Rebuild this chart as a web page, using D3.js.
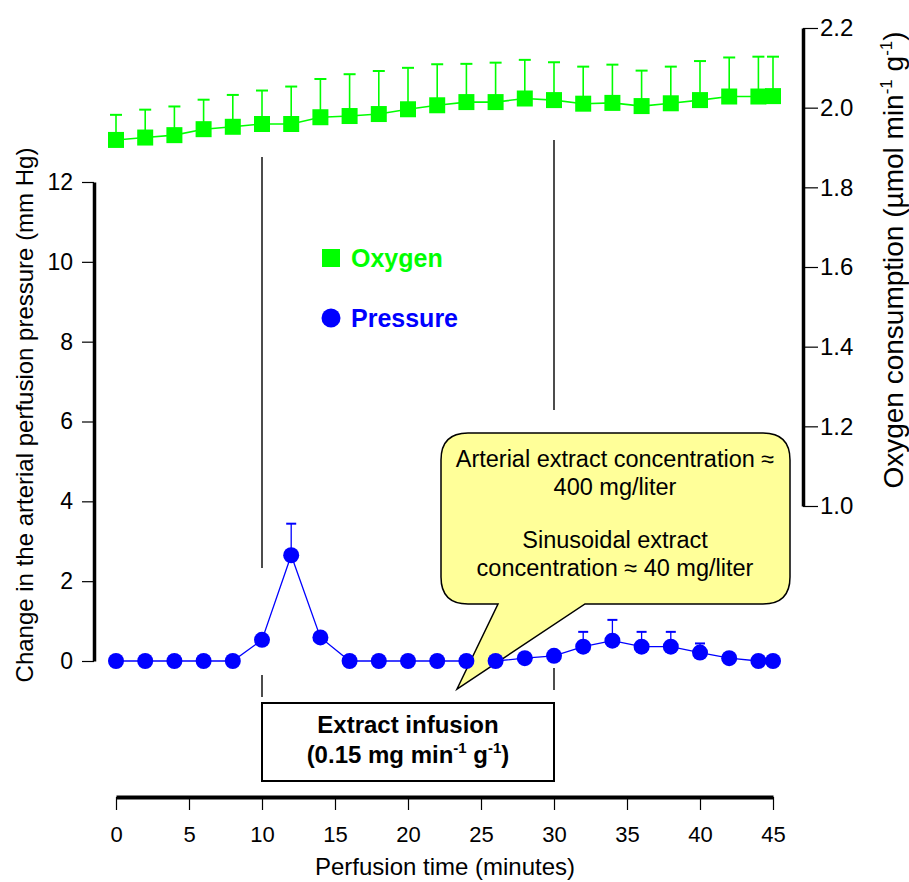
<!DOCTYPE html>
<html>
<head>
<meta charset="utf-8">
<script src="https://cdn.jsdelivr.net/npm/d3@7"></script>
<style>
  body { margin: 0; background: #fff; }
  svg { font-family: "Liberation Sans", Arial, sans-serif; }
</style>
</head>
<body>
<svg id="chart" width="909" height="882"></svg>
<script>
// perfusion time (minutes)
const times = [0, 2, 4, 6, 8, 10, 12, 14, 16, 18, 20, 22, 24, 26, 28, 30, 32, 34, 36, 38, 40, 42, 44, 45];
// oxygen consumption (umol min-1 g-1) and its upper error
const oxygen = [1.919, 1.925, 1.931, 1.946, 1.952, 1.959, 1.959, 1.976, 1.979, 1.984, 1.996, 2.006,
                2.014, 2.014, 2.023, 2.019, 2.010, 2.012, 2.004, 2.011, 2.019, 2.028, 2.028, 2.029];
const oxygenErr = [0.063, 0.070, 0.072, 0.074, 0.080, 0.084, 0.094, 0.096, 0.105, 0.108, 0.104, 0.103,
                   0.096, 0.099, 0.097, 0.095, 0.093, 0.096, 0.089, 0.092, 0.098, 0.098, 0.100, 0.099];
// change in arterial perfusion pressure (mm Hg) and its upper error
const pressure = [0, 0, 0, 0, 0, 0.53, 2.65, 0.59, 0, 0, 0, 0,
                  0, 0, 0.07, 0.13, 0.36, 0.51, 0.36, 0.36, 0.21, 0.07, 0, 0];
const pressureErr = [0, 0, 0, 0, 0, 0, 0.79, 0, 0, 0, 0, 0,
                     0, 0, 0, 0, 0.37, 0.52, 0.37, 0.37, 0.23, 0, 0, 0];
const xTicks = [0, 5, 10, 15, 20, 25, 30, 35, 40, 45];
const leftTicks = [0, 2, 4, 6, 8, 10, 12];
const rightTicks = [1.0, 1.2, 1.4, 1.6, 1.8, 2.0, 2.2];
const infusion = [10, 30];

const GREEN = '#00ff00';
const BLUE = '#0000ff';
const FONT = '"Liberation Sans", Arial, sans-serif';

const svg = d3.select('#chart');
const x = d3.scaleLinear().domain([0, 45]).range([116, 773]);
const yL = d3.scaleLinear().domain([0, 12]).range([661, 182]);
const yR = d3.scaleLinear().domain([1.0, 2.2]).range([506, 28]);

const oxy = times.map((t, i) => ({t: t, v: oxygen[i], e: oxygenErr[i]}));
const pres = times.map((t, i) => ({t: t, v: pressure[i], e: pressureErr[i]}));

// ---- axes ----
const xAxis = svg.append('g')
    .attr('transform', 'translate(0,797)')
    .call(d3.axisBottom(x).tickValues(xTicks).tickSize(13).tickSizeOuter(0).tickPadding(16));
xAxis.select('.domain').attr('stroke-width', 4);
xAxis.selectAll('.tick line').attr('stroke-width', 1.2);
xAxis.selectAll('text').attr('font-size', 22).attr('font-family', FONT);

const leftAxis = svg.append('g')
    .attr('transform', 'translate(94,0)')
    .call(d3.axisLeft(yL).tickValues(leftTicks).tickSize(12).tickSizeOuter(0).tickPadding(9));
leftAxis.select('.domain').attr('stroke-width', 3.5);
leftAxis.selectAll('.tick line').attr('stroke-width', 1.2);
leftAxis.selectAll('text').attr('font-size', 23).attr('font-family', FONT);

const rightAxis = svg.append('g')
    .attr('transform', 'translate(803,0)')
    .call(d3.axisRight(yR).tickValues(rightTicks).tickFormat(d3.format('.1f'))
      .tickSize(15).tickSizeOuter(0).tickPadding(2));
rightAxis.select('.domain').attr('stroke-width', 3.5);
rightAxis.selectAll('.tick line').attr('stroke-width', 1.2);
rightAxis.selectAll('text').attr('font-size', 24).attr('font-family', FONT);

// axis titles
svg.append('text')
    .attr('transform', 'translate(33,415) rotate(-90)')
    .attr('text-anchor', 'middle')
    .attr('font-size', 24)
    .text('Change in the arterial perfusion pressure (mm Hg)');

const rTitle = svg.append('text')
    .attr('transform', 'translate(903,260) rotate(-90)')
    .attr('text-anchor', 'middle')
    .attr('font-size', 28);
rTitle.append('tspan').text('Oxygen consumption (\u00b5mol min');
rTitle.append('tspan').attr('font-size', 17).attr('dy', -11).text('-1');
rTitle.append('tspan').attr('dy', 11).text(' g');
rTitle.append('tspan').attr('font-size', 17).attr('dy', -11).text('-1');
rTitle.append('tspan').attr('dy', 11).text(')');

svg.append('text')
    .attr('x', 445).attr('y', 875)
    .attr('text-anchor', 'middle')
    .attr('font-size', 24)
    .text('Perfusion time (minutes)');

// ---- infusion markers ----
const markerSegs = [
  {t: infusion[0], y1: 157, y2: 568},
  {t: infusion[0], y1: 675, y2: 697},
  {t: infusion[1], y1: 140, y2: 410},
  {t: infusion[1], y1: 668, y2: 690}
];
svg.selectAll('line.marker')
  .data(markerSegs)
  .enter().append('line')
    .attr('class', 'marker')
    .attr('x1', d => x(d.t)).attr('x2', d => x(d.t))
    .attr('y1', d => d.y1).attr('y2', d => d.y2)
    .attr('stroke', '#111').attr('stroke-width', 1.5);

svg.append('rect')
    .attr('x', x(infusion[0])).attr('y', 703)
    .attr('width', x(infusion[1]) - x(infusion[0])).attr('height', 78)
    .attr('fill', '#fff').attr('stroke', '#000').attr('stroke-width', 2);
svg.append('text')
    .attr('x', (x(infusion[0]) + x(infusion[1])) / 2).attr('y', 733)
    .attr('text-anchor', 'middle').attr('font-weight', 'bold').attr('font-size', 24)
    .text('Extract infusion');
const boxT = svg.append('text')
    .attr('x', (x(infusion[0]) + x(infusion[1])) / 2).attr('y', 763)
    .attr('text-anchor', 'middle').attr('font-weight', 'bold').attr('font-size', 24);
boxT.append('tspan').text('(0.15 mg min');
boxT.append('tspan').attr('font-size', 15).attr('dy', -10).text('-1');
boxT.append('tspan').attr('dy', 10).text(' g');
boxT.append('tspan').attr('font-size', 15).attr('dy', -10).text('-1');
boxT.append('tspan').attr('dy', 10).text(')');

// ---- oxygen series ----
const oxyLine = d3.line().x(d => x(d.t)).y(d => yR(d.v));
svg.append('path').datum(oxy)
    .attr('d', oxyLine).attr('fill', 'none')
    .attr('stroke', GREEN).attr('stroke-width', 1.6);
const oxyErr = svg.append('g').attr('stroke', GREEN).attr('stroke-width', 1.6);
oxyErr.selectAll('line.v').data(oxy).enter().append('line')
    .attr('x1', d => x(d.t)).attr('x2', d => x(d.t))
    .attr('y1', d => yR(d.v)).attr('y2', d => yR(d.v + d.e));
oxyErr.selectAll('line.cap').data(oxy).enter().append('line')
    .attr('x1', d => x(d.t) - 6).attr('x2', d => x(d.t) + 6)
    .attr('y1', d => yR(d.v + d.e)).attr('y2', d => yR(d.v + d.e))
    .attr('stroke-width', 2);
svg.selectAll('rect.oxy').data(oxy).enter().append('rect')
    .attr('class', 'oxy')
    .attr('x', d => x(d.t) - 8).attr('y', d => yR(d.v) - 8)
    .attr('width', 16).attr('height', 16)
    .attr('fill', GREEN);

// ---- pressure series ----
const presLine = d3.line().x(d => x(d.t)).y(d => yL(d.v));
svg.append('path').datum(pres)
    .attr('d', presLine).attr('fill', 'none')
    .attr('stroke', BLUE).attr('stroke-width', 1.3);
const withErr = pres.filter(d => d.e > 0);
const presErr = svg.append('g').attr('stroke', BLUE).attr('stroke-width', 1.3);
presErr.selectAll('line.v').data(withErr).enter().append('line')
    .attr('x1', d => x(d.t)).attr('x2', d => x(d.t))
    .attr('y1', d => yL(d.v)).attr('y2', d => yL(d.v + d.e));
presErr.selectAll('line.cap').data(withErr).enter().append('line')
    .attr('x1', d => x(d.t) - 5).attr('x2', d => x(d.t) + 5)
    .attr('y1', d => yL(d.v + d.e)).attr('y2', d => yL(d.v + d.e))
    .attr('stroke-width', 2);

// ---- callout ----
const cL = 441, cR = 790, cT = 433, cB = 604, r = 27;
const tip = [457, 689], baseL = 498, baseR = 585;
const callout = d3.path();
callout.moveTo(cL + r, cT);
callout.lineTo(cR - r, cT);
callout.quadraticCurveTo(cR, cT, cR, cT + r);
callout.lineTo(cR, cB - r);
callout.quadraticCurveTo(cR, cB, cR - r, cB);
callout.lineTo(baseR, cB);
callout.lineTo(tip[0], tip[1]);
callout.lineTo(baseL, cB);
callout.lineTo(cL + r, cB);
callout.quadraticCurveTo(cL, cB, cL, cB - r);
callout.lineTo(cL, cT + r);
callout.quadraticCurveTo(cL, cT, cL + r, cT);
callout.closePath();
svg.append('path')
    .attr('d', callout.toString())
    .attr('fill', '#ffff99').attr('stroke', '#000').attr('stroke-width', 1.5);

const calloutLines = [
  {s: 'Arterial extract concentration \u2248', y: 467},
  {s: '400 mg/liter', y: 495},
  {s: 'Sinusoidal extract', y: 548},
  {s: 'concentration \u2248 40 mg/liter', y: 576}
];
svg.selectAll('text.callout').data(calloutLines).enter().append('text')
    .attr('class', 'callout')
    .attr('x', 615).attr('y', d => d.y)
    .attr('text-anchor', 'middle').attr('font-size', 23.5)
    .text(d => d.s);

// circles drawn on top of callout (as in the reference)
svg.selectAll('circle.pres').data(pres).enter().append('circle')
    .attr('class', 'pres')
    .attr('cx', d => x(d.t)).attr('cy', d => yL(d.v))
    .attr('r', 8).attr('fill', BLUE);

// ---- legend ----
svg.append('rect').attr('x', 322).attr('y', 249).attr('width', 18).attr('height', 18).attr('fill', GREEN);
svg.append('text').attr('x', 351).attr('y', 267)
    .attr('font-size', 25).attr('font-weight', 'bold').attr('fill', GREEN).text('Oxygen');
svg.append('circle').attr('cx', 331).attr('cy', 318).attr('r', 9.5).attr('fill', BLUE);
svg.append('text').attr('x', 351).attr('y', 327)
    .attr('font-size', 25).attr('font-weight', 'bold').attr('fill', BLUE).text('Pressure');
</script>
</body>
</html>
